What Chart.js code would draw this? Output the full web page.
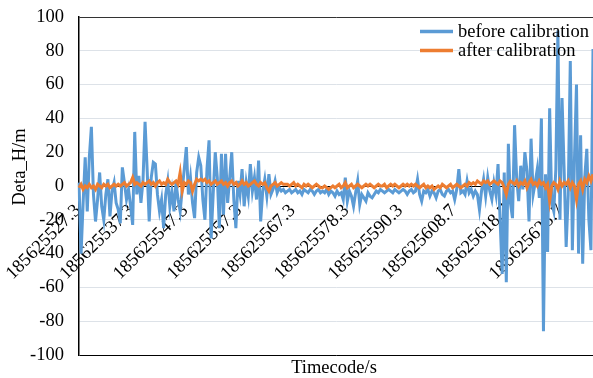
<!DOCTYPE html>
<html>
<head>
<meta charset="utf-8">
<script src="https://cdn.jsdelivr.net/npm/chart.js@4/dist/chart.umd.min.js"></script>
<style>
  body { margin: 0; background: #fff; }
  canvas { display: block; }
</style>
</head>
<body>
<canvas id="deta_chart" width="593" height="378"></canvas>
<script>
// one tick label every 26 samples
var tickLabels = ['185625527.3', '185625537.3', '185625547.3', '185625557.3', '185625567.3',
    '185625578.3', '185625590.3', '185625608.7', '185625618.7', '185625628.7'];
var tickStep = 26;

var before = [
    2, -40, -10, 17, -15, 17, 35, -5, -21, -8,
    8, -12, -20, -5, 4, -18, -3, 2, -10, -14,
    -22, 11, 2, -8, -2, -12, -23, 32, -5, 6,
    -10, 3, 38, 10, -21, 5, 14, 13, -5, -15,
    -8, -25, -5, 3, -12, -3, -15, 2, -8, -15,
    -2, 10, 23, -5, 5, -10, -19, 8, 17, 12,
    -8, -20, 10, 27, -31, -5, 20, 5, -25, 19,
    -17, 19, -10, 5, 20, -8, -25, 3, -5, 10,
    -12, 2, -6, 13, -3, 5, -8, 15, -21, -3,
    4, -6, 7, -5, -2, 3, -4, -1, -3, -2,
    -4, -3, -2, -4, -3, -2, -4, -3, -5, -2,
    -3, -4, -2, -3, -5, -3, -2, -4, -3, -4,
    -2, -5, -3, -4, -6, -3, -5, -4, -8, 5,
    -9, -3, -6, -12, -4, 3, -11, -5, -7, -9,
    -4, -6, -7, -5, -3, -4, -2, -3, -4, -3,
    -2, -3, -4, -2, -3, -4, -3, -2, -3, -5,
    -3, -2, -4, -3, 4, -5, -9, -3, -4, -2,
    -6, -3, -4, -7, -3, -2, -5, -6, -3, -2,
    -4, -3, -8, -2, 10, -4, -3, -5, 3, -4,
    -2, -6, -3, -5, -14, -3, 4, -6, 5, -3,
    -8, 2, -5, 13, -20, -52, 8, -57, 25, -10,
    -19, 36, 5, -9, 12, -2, 20, 9, -21, 28,
    -5, 2, 10, -7, 40, -86, 7, -39, 46, -10,
    -15, 10, 92, -20, 52, 10, -36, -5, 74, -38,
    15, 60, -40, 30, -46, 5, 22, -20, -38, 81
];

var after = [
    -1, 1, -2, 0, -1, 1, -1, 0, -2, 1,
    0, -1, 1, 0, 1, -1, 0, 1, 0, 1,
    0, 1, 2, 0, 1, 2, 5, 1, 2, 1,
    0, 2, 1, 2, 3, 1, 2, 0, 2, 3,
    1, 2, 1, 4, 2, 1, 2, 3, 1, 8,
    -3, 2, 1, 3, 2, -3, 1, 4, 3, 4,
    3, 4, 2, 3, 1, 2, 3, 1, 2, 3,
    1, 2, 0, 2, 3, 1, 2, 0, 1, 3,
    1, 2, 0, 1, 2, 3, 1, 0, 2, 1,
    2, -1, -3, 0, 1, 2, 0, 1, 2, 1,
    1, 1, 0, 1, 2, 0, 1, 0, -1, 1,
    0, 1, 0, -1, 0, 1, 0, -1, -1, 0,
    -1, -2, -1, 0, -1, 0, 1, -1, 0, 2,
    -1, 0, 1, -1, 0, 1, 0, -1, 0, 1,
    0, 1, 0, -1, 0, 1, 0, 0, 1, -1,
    0, 1, 0, 1, 0, -1, 0, 1, 0, 1,
    0, 1, 0, 1, 0, -1, 0, 1, -1, 0,
    -1, 0, -2, -1, 0, -1, 1, 0, -1, 0,
    1, -1, 0, 1, 0, -1, 0, 1, 0, 2,
    1, 2, 1, 3, 2, 1, 3, 2, 3, 1,
    2, 3, 2, 1, 3, 2, -1, -5, 1, 3,
    2, 1, 3, 0, 2, 1, 3, -1, 2, 4,
    1, 2, 0, 3, 1, 2, -1, 1, -9, 0,
    2, 1, -2, 3, 0, 2, 1, 3, -1, 2,
    0, -8, 1, 3, -2, 4, 2, 6, 3, 7
];

var sampleIndex = before.map(function(v, i) { return i; });

var serif = '"Liberation Serif", "Times New Roman", serif';
var fontSize = 18.5;

// legend inside the plot + axis titles
var overlay = {
    id: 'overlay',
    afterDraw: function(chart) {
        var ctx = chart.ctx;
        var area = chart.chartArea;
        ctx.save();
        ctx.font = fontSize + 'px ' + serif;
        ctx.fillStyle = '#000';
        ctx.textBaseline = 'alphabetic';
        chart.data.datasets.forEach(function(ds, k) {
            var y = area.top + 14.5 + k * 19;
            ctx.strokeStyle = ds.borderColor;
            ctx.lineWidth = 3.5;
            ctx.beginPath();
            ctx.moveTo(area.right - 173, y);
            ctx.lineTo(area.right - 140, y);
            ctx.stroke();
            ctx.fillText(ds.label, area.right - 135, y + 5.5);
        });
        ctx.textAlign = 'center';
        ctx.fillText('Timecode/s', (area.left + area.right) / 2 - 2, 373);
        ctx.translate(25, 167);
        ctx.rotate(-Math.PI / 2);
        ctx.fillText('Deta_H/m', 0, 0);
        ctx.restore();
    }
};

function noPadding(scale) {
    scale.paddingLeft = 0;
    scale.paddingRight = 0;
    scale.paddingTop = 0;
    scale.paddingBottom = 0;
}

new Chart(document.getElementById('deta_chart'), {
    type: 'line',
    data: {
        labels: sampleIndex,
        datasets: [
            {
                label: 'before calibration',
                data: before,
                borderColor: '#5B9BD5',
                borderWidth: 3,
                pointRadius: 0,
                order: 1
            },
            {
                label: 'after calibration',
                data: after,
                borderColor: '#ED7D31',
                borderWidth: 3,
                pointRadius: 0,
                order: 0
            }
        ]
    },
    options: {
        responsive: false,
        animation: false,
        layout: { padding: { left: 0, top: 17, right: 0, bottom: 23 } },
        plugins: {
            legend: { display: false },
            tooltip: { enabled: false }
        },
        scales: {
            x: {
                position: { y: 0 },
                afterFit: noPadding,
                grid: { display: false, drawTicks: false },
                border: { display: true, color: '#000', width: 1 },
                ticks: {
                    autoSkip: false,
                    minRotation: 45,
                    maxRotation: 45,
                    padding: 14,
                    labelOffset: -1,
                    color: '#000',
                    font: { family: serif, size: fontSize },
                    callback: function(v, i) {
                        return i % tickStep === 0 ? tickLabels[i / tickStep] : '';
                    }
                }
            },
            y: {
                min: -100,
                max: 100,
                afterFit: function(scale) {
                    scale.width = 79;
                    noPadding(scale);
                },
                grid: {
                    drawTicks: false,
                    color: function(c) {
                        if (c.tick.value === -100) return '#000';
                        if (c.tick.value === 100) return '#333';
                        return '#dde2e8';
                    }
                },
                border: { display: true, color: '#000', width: 1.5 },
                ticks: {
                    stepSize: 20,
                    padding: 15,
                    color: '#000',
                    font: { family: serif, size: fontSize }
                }
            }
        }
    },
    plugins: [overlay]
});
</script>
</body>
</html>
